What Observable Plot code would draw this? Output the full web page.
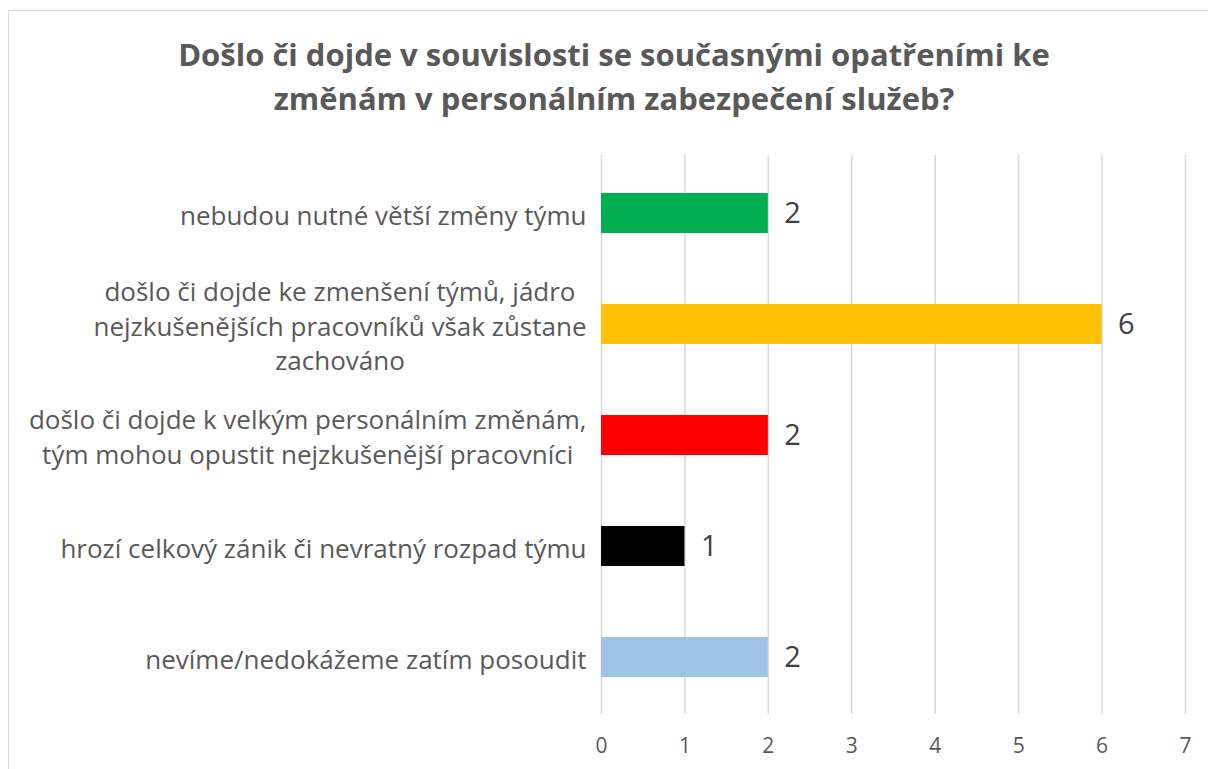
<!DOCTYPE html>
<html>
<head>
<meta charset="utf-8">
<script src="https://cdn.jsdelivr.net/npm/d3@7"></script>
<script src="https://cdn.jsdelivr.net/npm/@observablehq/plot@0.6"></script>
<style>
  html, body { margin: 0; padding: 0; background: #fff; overflow: hidden; width: 1208px; height: 769px; }
  #frame { position: absolute; left: 8px; top: 10px; width: 1400px; height: 1000px; border: 1.5px solid #d9d9d9; box-sizing: border-box; }
  #title { position: absolute; left: 0; top: 32px; width: 1228px; text-align: center; font-family: "Open Sans", sans-serif; font-weight: bold; font-size: 31px; line-height: 44px; color: #595959; }
  #chart { position: absolute; left: 0; top: 130px; }
</style>
</head>
<body>
<div id="frame"></div>
<div id="title">Došlo či dojde v souvislosti se současnými opatřeními ke<br>změnám v personálním zabezpečení služeb?</div>
<div id="chart"></div>
<script>
const categories = [
  "nebudou nutné větší změny týmu",
  "došlo či dojde ke zmenšení týmů, jádro\nnejzkušenějších pracovníků však zůstane\nzachováno",
  "došlo či dojde k velkým personálním změnám,\ntým mohou opustit nejzkušenější pracovníci",
  "hrozí celkový zánik či nevratný rozpad týmu",
  "nevíme/nedokážeme zatím posoudit"
];
const values = [2, 6, 2, 1, 2];
const colors = ["#00b050", "#ffc000", "#ff0000", "#000000", "#9dc3e6"];
const xTicks = [0, 1, 2, 3, 4, 5, 6, 7];

const data = categories.map((c, i) => ({category: c, value: values[i], color: colors[i]}));

const labelSize = 26;
const ctx = document.createElement("canvas").getContext("2d");
ctx.font = labelSize + "px 'Open Sans'";
const blockWidths = categories.map(c => Math.max(...c.split("\n").map(l => ctx.measureText(l).width)));

const labelMarks = data.map((d, i) => Plot.text([d], {
  y: "category",
  text: "category",
  frameAnchor: "left",
  textAnchor: "middle",
  dx: -15 - blockWidths[i] / 2,
  fontSize: labelSize,
  lineHeight: 1.33,
  fill: "#595959"
}));

const chart = Plot.plot({
  width: 1208,
  height: 639,
  marginLeft: 601,
  marginRight: 23,
  marginTop: 25,
  marginBottom: 55,
  style: {fontFamily: "'Open Sans', sans-serif", background: "transparent", overflow: "visible"},
  x: {domain: [0, 7], label: null},
  y: {domain: categories, paddingInner: 0.642, paddingOuter: 0.321, label: null, axis: null},
  marks: [
    Plot.gridX(xTicks, {stroke: "#d9d9d9", strokeOpacity: 1, strokeWidth: 1.5}),
    Plot.barX(data, {x: "value", y: "category", fill: "color"}),
    Plot.text(data, {x: "value", y: "category", text: d => String(d.value), textAnchor: "start", dx: 16, fontSize: 29, fill: "#404040"}),
    Plot.axisX(xTicks, {tickSize: 0, tickPadding: 24, fontSize: 21, fill: "#595959", label: null}),
    ...labelMarks
  ]
});
document.getElementById("chart").appendChild(chart);
</script>
</body>
</html>
